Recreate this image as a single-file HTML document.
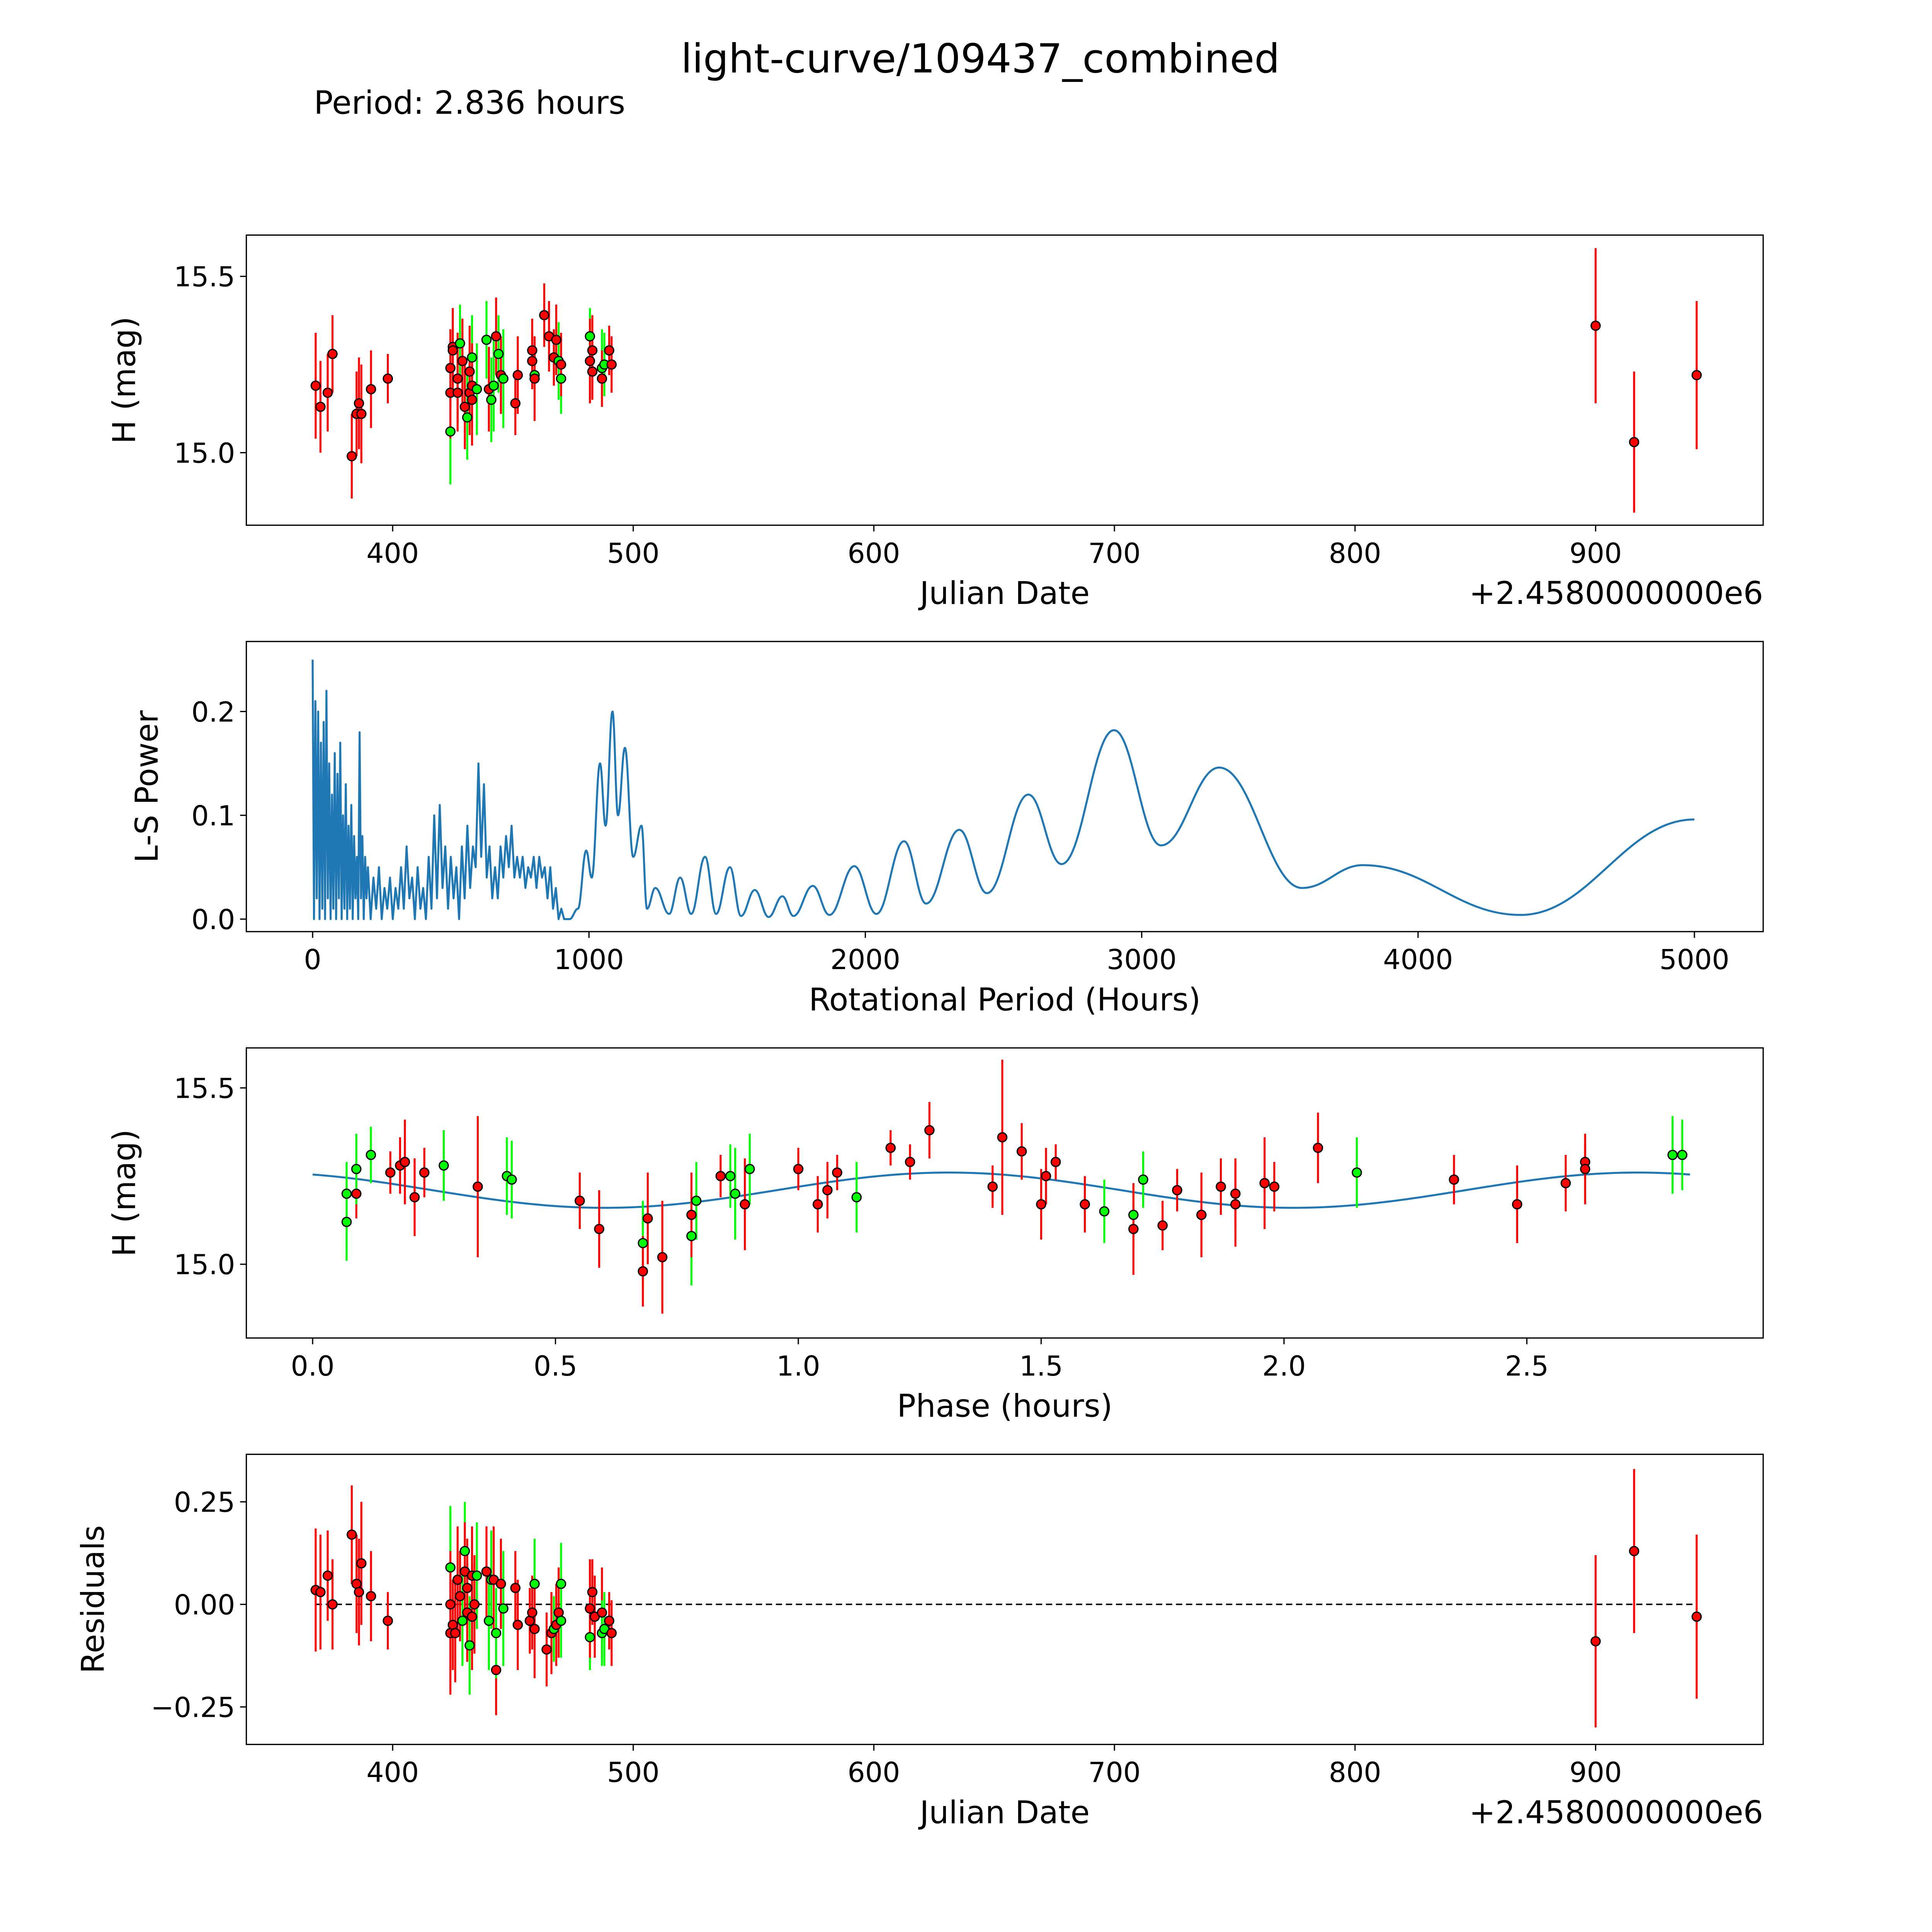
<!DOCTYPE html>
<html><head><meta charset="utf-8"><style>
html,body{margin:0;padding:0;background:#fff;width:100%;height:100%;overflow:hidden;}
svg{display:block;width:100vw;height:100vh;font-family:"DejaVu Sans","Liberation Sans",sans-serif;}
</style></head><body>
<svg id="fig" xmlns="http://www.w3.org/2000/svg" viewBox="0 0 1545 1545" preserveAspectRatio="none">
<rect width="1545" height="1545" fill="#fff"/>
<text x="784" y="58" font-size="32" text-anchor="middle">light-curve/109437_combined</text>
<text x="251" y="91" font-size="25.5">Period: 2.836 hours</text>
<g id="root"></g>
</svg>
<script>
// ---- Panel 1: light curve vs Julian Date (offset 2458000) ----
const lcDate=[368,370,373,375,383,385,386,387,391,398,424,424,424,425,425,427,427,428,429,429,430,431,432,432,433,433,433,435,439,440,441,442,443,444,445,446,451,452,458,458,459,459,463,465,467,468,469,470,470,482,482,483,483,487,487,488,490,491,900,916,942];
const lcMag=[15.19,15.13,15.17,15.28,14.99,15.11,15.14,15.11,15.18,15.21,15.06,15.17,15.24,15.30,15.29,15.21,15.17,15.31,15.26,15.26,15.13,15.10,15.23,15.17,15.27,15.15,15.19,15.18,15.32,15.18,15.15,15.19,15.33,15.28,15.22,15.21,15.14,15.22,15.26,15.29,15.22,15.21,15.39,15.33,15.27,15.32,15.26,15.21,15.25,15.33,15.26,15.23,15.29,15.24,15.21,15.25,15.29,15.25,15.36,15.03,15.22];
const lcErr=[0.15,0.13,0.11,0.11,0.12,0.12,0.13,0.14,0.11,0.07,0.15,0.13,0.11,0.11,0.12,0.13,0.11,0.11,0.12,0.12,0.12,0.12,0.13,0.12,0.12,0.13,0.12,0.13,0.11,0.12,0.12,0.13,0.11,0.11,0.11,0.14,0.09,0.11,0.08,0.09,0.11,0.12,0.09,0.1,0.08,0.1,0.11,0.1,0.09,0.08,0.12,0.08,0.1,0.11,0.08,0.09,0.07,0.08,0.22,0.2,0.21];
const lcBand=["r","r","r","r","r","r","r","r","r","r","g","r","r","r","r","r","r","g","g","r","r","g","r","r","g","r","r","g","g","r","g","g","r","g","r","g","r","r","r","r","g","r","r","r","r","r","g","g","r","g","r","r","r","g","r","g","r","r","r","r","r"];
// ---- Panel 2: Lomb-Scargle periodogram ----
const lsPeriod=[0,5,10,15,20,25,30,35,40,45,50,55,60,65,70,75,80,85,90,95,100,105,110,115,120,125,130,135,140,145,150,155,160,165,170,175,180,185,190,195,200,210,220,230,240,250,260,270,280,290,300,310,320,330,340,350,360,370,380,390,400,410,420,430,440,450,460,470,480,490,500,510,520,530,540,550,560,570,580,590,600,610,620,630,640,650,660,670,680,690,700,710,720,730,740,750,760,770,780,790,800,810,820,830,840,850,860,870,880,890,900,910,920];
const lsPower=[0.25,0.0,0.21,0.02,0.2,0.0,0.17,0.01,0.19,0.0,0.22,0.02,0.15,0.0,0.12,0.01,0.16,0.0,0.14,0.02,0.17,0.0,0.1,0.01,0.13,0.0,0.09,0.01,0.11,0.0,0.08,0.02,0.06,0.0,0.18,0.02,0.08,0.0,0.06,0.02,0.05,0.0,0.04,0.01,0.05,0.0,0.03,0.01,0.04,0.0,0.03,0.01,0.05,0.01,0.07,0.02,0.04,0.0,0.05,0.01,0.03,0.0,0.06,0.01,0.1,0.02,0.11,0.03,0.07,0.01,0.06,0.02,0.05,0.0,0.07,0.02,0.09,0.03,0.07,0.05,0.15,0.06,0.13,0.04,0.07,0.02,0.05,0.02,0.07,0.04,0.08,0.05,0.09,0.04,0.06,0.04,0.06,0.03,0.05,0.04,0.06,0.03,0.06,0.04,0.05,0.02,0.05,0.01,0.03,0.0,0.01,0.0,0.0];
const lsSmoothPeriod=[930,960,990,1010,1040,1060,1085,1105,1130,1160,1190,1210,1240,1290,1330,1370,1420,1460,1510,1550,1600,1650,1700,1740,1810,1870,1960,2040,2140,2220,2340,2440,2590,2710,2900,3070,3280,3580,3800,4370,5000];
const lsSmoothPower=[0.0,0.01,0.066,0.04,0.15,0.09,0.2,0.1,0.165,0.06,0.09,0.01,0.03,0.005,0.04,0.005,0.06,0.005,0.05,0.003,0.028,0.002,0.022,0.003,0.032,0.004,0.051,0.005,0.075,0.015,0.086,0.025,0.12,0.053,0.182,0.071,0.146,0.03,0.052,0.004,0.096];
// ---- Panel 3: phased light curve ----
const phPhase=[0.07,0.07,0.09,0.09,0.12,0.16,0.18,0.19,0.21,0.23,0.27,0.34,0.40,0.41,0.55,0.59,0.68,0.68,0.69,0.72,0.78,0.78,0.79,0.84,0.86,0.87,0.89,0.90,1.00,1.04,1.06,1.08,1.12,1.19,1.23,1.27,1.40,1.42,1.46,1.50,1.51,1.53,1.59,1.63,1.69,1.69,1.71,1.75,1.78,1.83,1.87,1.90,1.90,1.96,1.98,2.07,2.15,2.35,2.48,2.58,2.62,2.62,2.80,2.82];
const phMag=[15.12,15.20,15.20,15.27,15.31,15.26,15.28,15.29,15.19,15.26,15.28,15.22,15.25,15.24,15.18,15.10,15.06,14.98,15.13,15.02,15.08,15.14,15.18,15.25,15.25,15.20,15.17,15.27,15.27,15.17,15.21,15.26,15.19,15.33,15.29,15.38,15.22,15.36,15.32,15.17,15.25,15.29,15.17,15.15,15.14,15.10,15.24,15.11,15.21,15.14,15.22,15.20,15.17,15.23,15.22,15.33,15.26,15.24,15.17,15.23,15.29,15.27,15.31,15.31];
const phErr=[0.11,0.09,0.07,0.1,0.08,0.06,0.08,0.12,0.11,0.07,0.1,0.2,0.11,0.11,0.08,0.11,0.12,0.1,0.13,0.16,0.14,0.12,0.11,0.06,0.09,0.13,0.13,0.1,0.06,0.08,0.08,0.05,0.1,0.05,0.05,0.08,0.06,0.22,0.08,0.1,0.08,0.05,0.08,0.09,0.09,0.13,0.08,0.07,0.06,0.12,0.08,0.1,0.12,0.13,0.07,0.1,0.1,0.07,0.11,0.08,0.05,0.1,0.11,0.1];
const phBand=["g","g","r","g","g","r","r","r","r","r","g","r","g","g","r","r","g","r","r","r","g","r","g","r","g","g","r","g","r","r","r","r","g","r","r","r","r","r","r","r","r","r","r","g","g","r","g","r","r","r","r","r","r","r","r","r","g","r","r","r","r","r","g","g"];
const fitMean=15.21, fitAmp=0.05, fitPeakPhase=1.31, fitHalfPeriod=1.418, fitEnd=2.836;
// ---- Panel 4: residuals ----
const resDate=[368,370,373,375,383,385,386,387,391,398,424,424,424,425,426,427,428,429,430,430,431,431,432,433,433,434,435,439,440,441,442,443,443,445,446,451,452,457,458,459,459,464,466,467,468,469,470,470,482,482,483,484,487,487,488,490,491,900,916,942];
const resVal=[0.035,0.03,0.07,0.0,0.17,0.05,0.03,0.10,0.02,-0.04,0.09,0.0,-0.07,-0.05,-0.07,0.06,0.02,-0.04,0.13,0.08,0.04,-0.02,-0.10,-0.03,0.07,0.0,0.07,0.08,-0.04,0.06,0.06,-0.16,-0.07,0.05,-0.01,0.04,-0.05,-0.04,-0.02,0.05,-0.06,-0.11,-0.07,-0.06,-0.05,-0.02,0.05,-0.04,-0.08,-0.01,0.03,-0.03,-0.02,-0.07,-0.06,-0.04,-0.07,-0.09,0.13,-0.03];
const resErr=[0.15,0.14,0.11,0.11,0.12,0.12,0.13,0.15,0.11,0.07,0.15,0.13,0.15,0.11,0.12,0.13,0.11,0.11,0.12,0.12,0.12,0.12,0.12,0.13,0.12,0.12,0.13,0.11,0.12,0.12,0.13,0.11,0.11,0.11,0.14,0.09,0.11,0.08,0.09,0.11,0.12,0.09,0.1,0.08,0.1,0.11,0.1,0.09,0.08,0.12,0.08,0.1,0.11,0.08,0.09,0.07,0.08,0.21,0.2,0.2];
const resBand=["r","r","r","r","r","r","r","r","r","r","g","r","r","r","r","r","r","g","g","r","r","r","g","r","r","r","g","r","g","g","r","r","g","r","g","r","r","r","r","g","r","r","r","g","r","r","g","g","g","r","r","r","r","g","g","r","r","r","r","r"];

const NS="http://www.w3.org/2000/svg";
const root=document.getElementById('root');
function mk(tag,attrs,parent){const e=document.createElementNS(NS,tag);for(const k in attrs)e.setAttribute(k,attrs[k]);(parent||root).appendChild(e);return e;}
function lin(d0,d1,p0,p1){return v=>p0+(v-d0)*(p1-p0)/(d1-d0);}
const L=197,R=1410,H=232;
const colors={r:"#ff0000",g:"#00ff00"};

function panel(name,top,xs,ys,xticks,yticks,xlabel,ylabel,ylabelX,offsetText){
  const g=mk('g',{});
  
  
  const ax=mk('g',{},g);
  
  
  xticks.forEach(t=>{
    const x=xs(t.v);
    const tk=mk('line',{x1:x,x2:x,y1:top+H,y2:top+H+5,stroke:'#000','stroke-width':1},ax);
    
    
    const tx=mk('text',{x:x,y:top+H+30,'font-size':22,'text-anchor':'middle'},ax);
    
    
    tx.textContent=t.s;
  });
  yticks.forEach(t=>{
    const y=ys(t.v);
    const tk=mk('line',{x1:L-5,x2:L,y1:y,y2:y,stroke:'#000','stroke-width':1},ax);
    
    
    const tx=mk('text',{x:L-9,y:y+8,'font-size':22,'text-anchor':'end'},ax);
    
    
    tx.textContent=t.s;
  });
  const xl=mk('text',{x:(L+R)/2,y:top+H+63,'font-size':25,'text-anchor':'middle'},ax);
  
  
  xl.textContent=xlabel;
  const yl=mk('text',{x:ylabelX,y:top+H/2,'font-size':25,'text-anchor':'middle',transform:`rotate(-90 ${ylabelX} ${top+H/2})`},ax);
  
  
  yl.textContent=ylabel;
  if(offsetText){
    const ot=mk('text',{x:R,y:top+H+63,'font-size':25,'text-anchor':'end'},ax);
    
    
    ot.textContent=offsetText;
  }
  const plot=mk('g',{},g);
  
  
  return {g,plot,top};
}
function frame(p){
  const f=mk('rect',{x:L,y:p.top,width:R-L,height:H,fill:'none',stroke:'#000','stroke-width':1},p.g);
  
  
}
function errpoints(p,xs,ys,X,Y,E,B){
  const eg=mk('g',{},p.plot);
  
  
  const mg=mk('g',{},p.plot);
  
  
  X.forEach((xv,i)=>{
    const x=xs(xv);
    const l=mk('line',{x1:x,x2:x,y1:ys(Y[i]-E[i]),y2:ys(Y[i]+E[i]),stroke:colors[B[i]],'stroke-width':1.6},eg);
    
    
  });
  X.forEach((xv,i)=>{
    const c=mk('circle',{cx:xs(xv),cy:ys(Y[i]),r:3.6,fill:colors[B[i]],stroke:'#000','stroke-width':1},mg);
    
    
  });
}
const jdTicks=[400,500,600,700,800,900].map(v=>({v,s:String(v)}));
// Panel 1
const x1=lin(400,900,314,1276);
const y1=lin(15.0,15.5,362,221);
const p1=panel('light-curve-panel',188,x1,y1,jdTicks,[{v:15.0,s:'15.0'},{v:15.5,s:'15.5'}],'Julian Date','H (mag)',108,'+2.4580000000e6');
errpoints(p1,x1,y1,lcDate,lcMag,lcErr,lcBand);
frame(p1);
// Panel 2
const x2=lin(0,5000,250,1355);
const y2=lin(0,0.2,735,569);
const p2=panel('periodogram-panel',513,x2,y2,[0,1000,2000,3000,4000,5000].map(v=>({v,s:String(v)})),[{v:0,s:'0.0'},{v:0.1,s:'0.1'},{v:0.2,s:'0.2'}],'Rotational Period (Hours)','L-S Power',126,null);
let d='';
lsPeriod.forEach((pv,i)=>{d+=(i?'L':'M')+x2(pv).toFixed(2)+' '+y2(lsPower[i]).toFixed(2);});
let px=x2(lsSmoothPeriod[0]),py=y2(lsSmoothPower[0]);
d+='L'+px.toFixed(2)+' '+py.toFixed(2);
for(let i=1;i<lsSmoothPeriod.length;i++){
  const nx=x2(lsSmoothPeriod[i]),ny=y2(lsSmoothPower[i]);
  const dx=(nx-px)*0.4;
  d+=`C${(px+dx).toFixed(2)} ${py.toFixed(2)} ${(nx-dx).toFixed(2)} ${ny.toFixed(2)} ${nx.toFixed(2)} ${ny.toFixed(2)}`;
  px=nx;py=ny;
}
const lsLine=mk('path',{d:d,fill:'none',stroke:'#1f77b4','stroke-width':1.6,'stroke-linejoin':'round'},p2.plot);


frame(p2);
// Panel 3
const x3=lin(0,2.5,250,1221);
const y3=lin(15.0,15.5,1011,870);
const p3=panel('phased-curve-panel',838,x3,y3,[0,0.5,1,1.5,2,2.5].map(v=>({v,s:v.toFixed(1)})),[{v:15.0,s:'15.0'},{v:15.5,s:'15.5'}],'Phase (hours)','H (mag)',108,null);
let fd='';
for(let k=0;k<=200;k++){
  const ph=fitEnd*k/200;
  const m=fitMean+fitAmp*Math.cos(2*Math.PI*(ph-fitPeakPhase)/fitHalfPeriod);
  fd+=(k?'L':'M')+x3(ph).toFixed(2)+' '+y3(m).toFixed(2);
}
const fit=mk('path',{d:fd,fill:'none',stroke:'#1f77b4','stroke-width':1.6},p3.plot);


errpoints(p3,x3,y3,phPhase,phMag,phErr,phBand);
frame(p3);
// Panel 4
const y4=lin(0,0.25,1283,1201);
const p4=panel('residuals-panel',1163,x1,y4,jdTicks,[{v:-0.25,s:'\u22120.25'},{v:0,s:'0.00'},{v:0.25,s:'0.25'}],'Julian Date','Residuals',83,'+2.4580000000e6');
const zl=mk('line',{x1:x1(368),x2:x1(942),y1:y4(0),y2:y4(0),stroke:'#000','stroke-width':1.2,'stroke-dasharray':'5 3'},p4.plot);


errpoints(p4,x1,y4,resDate,resVal,resErr,resBand);
frame(p4);
</script>
</body></html>
